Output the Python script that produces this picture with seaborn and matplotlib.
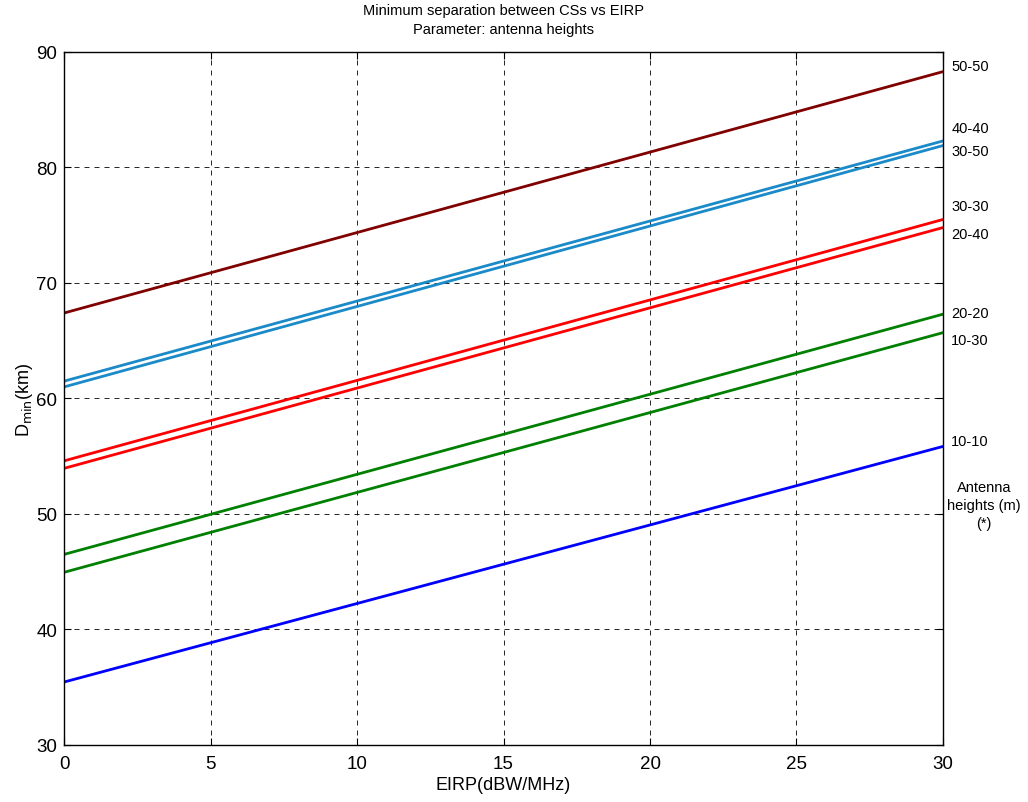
import matplotlib
matplotlib.use("Agg")
import matplotlib.pyplot as plt
import matplotlib.transforms as mtransforms
import seaborn as sns
import pandas as pd

# Data
eirp = [0, 30]
labels = ["50-50", "40-40", "30-50", "30-30", "20-40", "20-20", "10-30", "10-10"]
d_50_50 = [67.4, 88.3]
d_40_40 = [61.5, 82.3]
d_30_50 = [61.0, 81.9]
d_30_30 = [54.6, 75.5]
d_20_40 = [53.95, 74.8]
d_20_20 = [46.5, 67.3]
d_10_30 = [44.95, 65.7]
d_10_10 = [35.45, 55.85]
series = [d_50_50, d_40_40, d_30_50, d_30_30, d_20_40, d_20_20, d_10_30, d_10_10]
label_y = [88.8, 83.4, 81.45, 76.7, 74.25, 67.4, 65.1, 56.3]
colors = ["#800000", "#1a8ac8", "#1a8ac8", "#ff0000", "#ff0000", "#008000", "#008000", "#0000ff"]
xticks = [0, 5, 10, 15, 20, 25, 30]
yticks = [30, 40, 50, 60, 70, 80, 90]

rows = []
for lab, vals in zip(labels, series):
    for x, v in zip(eirp, vals):
        rows.append({"EIRP": x, "D": v, "pair": lab})
df = pd.DataFrame(rows)

sns.set_style("white")
plt.rcParams["font.family"] = ["Liberation Sans", "DejaVu Sans"]
plt.rcParams["text.color"] = "black"
plt.rcParams["axes.labelcolor"] = "black"

fig = plt.figure(figsize=(10.28, 8.03), dpi=100)
ax = fig.add_axes([0.0623, 0.071, 0.855, 0.863])

sns.lineplot(data=df, x="EIRP", y="D", hue="pair", hue_order=labels,
             palette=dict(zip(labels, colors)), linewidth=2, legend=False, ax=ax)

ax.set_xlim(0, 30)
ax.set_ylim(30, 90)
ax.set_xticks(xticks)
ax.set_yticks(yticks)
ax.tick_params(direction="in", length=5, width=0.8, labelsize=13.5, colors="black",
               top=True, right=True, bottom=True, left=True)
ax.tick_params(axis="x", pad=7)
ax.tick_params(axis="y", pad=5)
ax.grid(True, linestyle=(0, (6, 6)), color="black", linewidth=0.6)
for s in ax.spines.values():
    s.set_color("black")
    s.set_linewidth(1.0)

ax.set_xlabel("EIRP(dBW/MHz)", fontsize=13, labelpad=3)
ax.set_ylabel(r"D$_{\mathrm{min}}$(km)", fontsize=13, labelpad=1)
ax.set_title("Minimum separation between CSs vs EIRP\nParameter: antenna heights",
             fontsize=10.5, linespacing=1.45, pad=14)

trans = mtransforms.blended_transform_factory(ax.transAxes, ax.transData)
for lab, yv in zip(labels, label_y):
    ax.text(1.0095, yv, lab, transform=trans, fontsize=10.5, ha="left", va="center")
ax.text(1.047, 50.8, "Antenna\nheights (m)\n(*)", transform=trans, fontsize=10.5,
        ha="center", va="center", linespacing=1.35)

fig.savefig("out.png", dpi=100)
